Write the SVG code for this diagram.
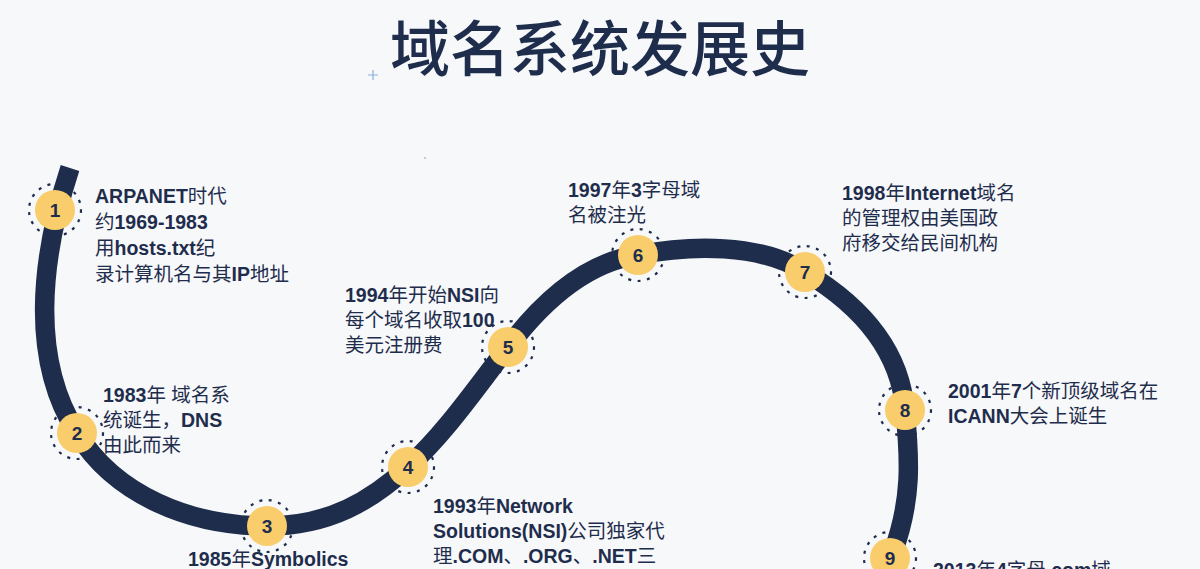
<svg xmlns="http://www.w3.org/2000/svg" width="1200" height="569" viewBox="0 0 1200 569">
<style>
.t{font-family:"Liberation Sans","Noto Sans CJK SC",sans-serif;font-size:19.5px;fill:#1f2d4d}
.b{font-weight:bold}
.title{font-family:"Noto Sans CJK SC",sans-serif;font-size:60px;font-weight:500;fill:#1f2d4d}
.dot{fill:#f9cd6b}
.ring{fill:none;stroke:#1f2d4d;stroke-width:2.2;stroke-dasharray:3 6.5}
.num{font-family:"Liberation Sans",sans-serif;font-size:19px;font-weight:bold;fill:#1f2d4d;text-anchor:middle}
</style>
<rect width="1200" height="569" fill="#f7f8fa"/>
<text class="title" x="600" y="71" text-anchor="middle">域名系统发展史</text>
<path d="M368,75 H378 M373,70 V80" stroke="#8fb0d8" stroke-width="1.2"/>
<circle cx="425" cy="158" r="0.9" fill="#b0b6c0"/>
<g id="connectors">
<path d="M70,168 C40,260 30,360 77,433 C115,495 190,526 267,526 C330,526 372,500 408,467 C448,430 478,385 508,347 C545,298 588,262 638,255 C690,245 760,243 805,272 C860,305 900,350 905,410 C910,460 912,500 893,552" fill="none" stroke="#1f2d4d" stroke-width="19.5"/>
</g>
<g id="node1">
<circle class="ring" cx="55" cy="210" r="26"/><circle class="dot" cx="55" cy="210" r="20"/>
<text class="num" x="55" y="217">1</text>
<text class="t" x="95" y="203"><tspan class="b">ARPANET</tspan>时代</text>
<text class="t" x="95" y="229">约<tspan class="b">1969-1983</tspan></text>
<text class="t" x="95" y="255">用<tspan class="b">hosts.txt</tspan>纪</text>
<text class="t" x="95" y="281">录计算机名与其<tspan class="b">IP</tspan>地址</text>
</g>
<g id="node2">
<circle class="ring" cx="77" cy="433" r="26"/><circle class="dot" cx="77" cy="433" r="20"/>
<text class="num" x="77" y="440">2</text>
<text class="t" x="103" y="402"><tspan class="b">1983</tspan>年 域名系</text>
<text class="t" x="103" y="427">统诞生，<tspan class="b">DNS</tspan></text>
<text class="t" x="103" y="452">由此而来</text>
</g>
<g id="node3">
<circle class="ring" cx="267" cy="526" r="26"/><circle class="dot" cx="267" cy="526" r="20"/>
<text class="num" x="267" y="533">3</text>
<text class="t" x="188" y="566"><tspan class="b">1985</tspan>年<tspan class="b">Symbolics</tspan></text>
</g>
<g id="node4">
<circle class="ring" cx="408" cy="467" r="26"/><circle class="dot" cx="408" cy="467" r="20"/>
<text class="num" x="408" y="474">4</text>
<text class="t" x="433" y="513"><tspan class="b">1993</tspan>年<tspan class="b">Network</tspan></text>
<text class="t" x="433" y="538"><tspan class="b">Solutions(NSI)</tspan>公司独家代</text>
<text class="t" x="433" y="563">理<tspan class="b">.COM</tspan>、<tspan class="b">.ORG</tspan>、<tspan class="b">.NET</tspan>三</text>
</g>
<g id="node5">
<circle class="ring" cx="508" cy="347" r="26"/><circle class="dot" cx="508" cy="347" r="20"/>
<text class="num" x="508" y="354">5</text>
<text class="t" x="345" y="302"><tspan class="b">1994</tspan>年开始<tspan class="b">NSI</tspan>向</text>
<text class="t" x="345" y="327">每个域名收取<tspan class="b">100</tspan></text>
<text class="t" x="345" y="352">美元注册费</text>
</g>
<g id="node6">
<circle class="ring" cx="638" cy="255" r="26"/><circle class="dot" cx="638" cy="255" r="20"/>
<text class="num" x="638" y="262">6</text>
<text class="t" x="568" y="197"><tspan class="b">1997</tspan>年<tspan class="b">3</tspan>字母域</text>
<text class="t" x="568" y="222">名被注光</text>
</g>
<g id="node7">
<circle class="ring" cx="805" cy="272" r="26"/><circle class="dot" cx="805" cy="272" r="20"/>
<text class="num" x="805" y="279">7</text>
<text class="t" x="842" y="200"><tspan class="b">1998</tspan>年<tspan class="b">Internet</tspan>域名</text>
<text class="t" x="842" y="225">的管理权由美国政</text>
<text class="t" x="842" y="250">府移交给民间机构</text>
</g>
<g id="node8">
<circle class="ring" cx="905" cy="410" r="26"/><circle class="dot" cx="905" cy="410" r="20"/>
<text class="num" x="905" y="417">8</text>
<text class="t" x="948" y="398"><tspan class="b">2001</tspan>年<tspan class="b">7</tspan>个新顶级域名在</text>
<text class="t" x="948" y="423"><tspan class="b">ICANN</tspan>大会上诞生</text>
</g>
<g id="node9">
<circle class="ring" cx="890" cy="558" r="26"/><circle class="dot" cx="890" cy="558" r="20"/>
<text class="num" x="890" y="565">9</text>
<text class="t" x="933" y="577"><tspan class="b">2013</tspan>年<tspan class="b">4</tspan>字母<tspan class="b">.com</tspan>域</text>
</g>
</svg>
